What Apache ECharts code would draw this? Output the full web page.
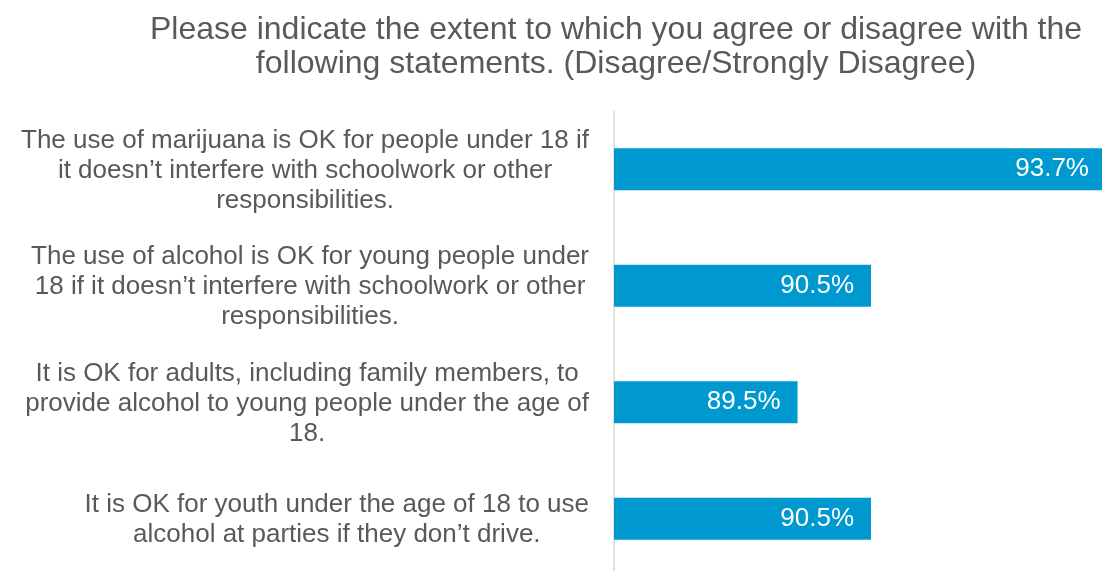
<!DOCTYPE html>
<html>
<head>
<meta charset="utf-8">
<script src="https://cdn.jsdelivr.net/npm/echarts@6/dist/echarts.min.js"></script>
<style>
  html, body { margin: 0; padding: 0; background: #ffffff; }
  #chart { width: 1102px; height: 571px; }
</style>
</head>
<body>
<div id="chart"></div>
<script>
const titleText = 'Please indicate the extent to which you agree or disagree with the\nfollowing statements. (Disagree/Strongly Disagree)';
const categories = [
  'The use of marijuana is OK for people under 18 if\nit doesn\u2019t interfere with schoolwork or other\nresponsibilities.',
  'The use of alcohol is OK for young people under\n18 if it doesn\u2019t interfere with schoolwork or other\nresponsibilities.',
  'It is OK for adults, including family members, to\nprovide alcohol to young people under the age of\n18.',
  'It is OK for youth under the age of 18 to use\nalcohol at parties if they don\u2019t drive.'
];
const values = [93.7, 90.5, 89.5, 90.5];

const chart = echarts.init(document.getElementById('chart'), null, { renderer: 'canvas' });
const FONT = '"Liberation Sans", Arial, sans-serif';
chart.setOption({
  backgroundColor: '#ffffff',
  animation: false,
  title: {
    text: titleText,
    left: 611,
    top: 8,
    textAlign: 'center',
    textStyle: {
      fontFamily: FONT,
      fontSize: 32,
      fontWeight: 'normal',
      color: '#595959',
      lineHeight: 34
    }
  },
  grid: { left: 614, top: 111, width: 514, height: 466, containLabel: false, outerBoundsMode: 'none' },
  xAxis: {
    type: 'value',
    min: 87,
    max: 94,
    show: false,
    splitLine: { show: false }
  },
  yAxis: {
    type: 'category',
    inverse: true,
    data: categories,
    axisLine: { show: true, lineStyle: { color: '#d9d9d9', width: 1.5 } },
    axisTick: { show: false },
    splitLine: { show: false },
    axisLabel: {
      margin: 25,
      align: 'right',
      padding: [3, 0, 0, 0],
      formatter: function (v) {
        return v.split('\n').map(function (s) { return '{c|' + s + '}'; }).join('\n');
      },
      rich: {
        c: {
          align: 'center',
          fontFamily: FONT,
          fontSize: 26,
          lineHeight: 30,
          color: '#595959'
        }
      }
    }
  },
  series: [{
    type: 'bar',
    data: values,
    barWidth: 42,
    itemStyle: { color: '#0099CF' },
    label: {
      show: true,
      position: 'insideRight',
      distance: 17,
      formatter: function (p) { return p.value.toFixed(1) + '%'; },
      fontFamily: FONT,
      fontSize: 26,
      color: '#ffffff'
    }
  }]
});
</script>
</body>
</html>
